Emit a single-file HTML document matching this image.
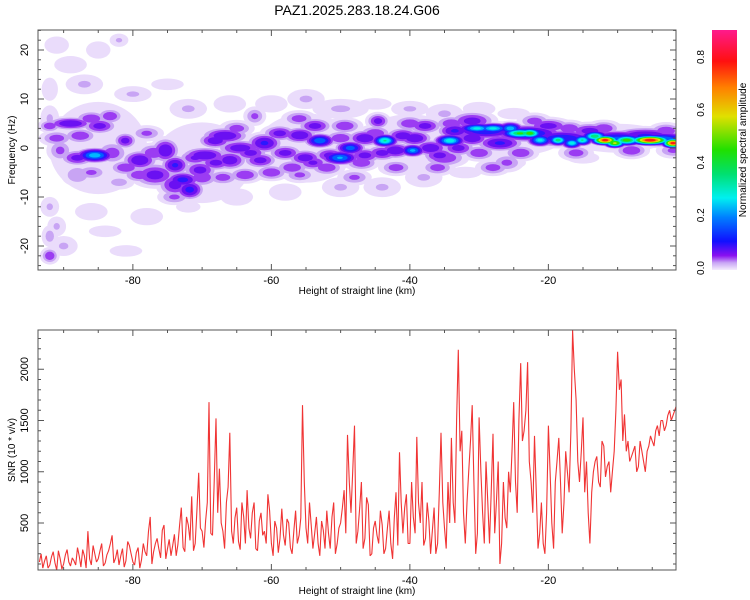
<!DOCTYPE html>
<html><head><meta charset="utf-8"><style>
body{margin:0;background:#fff;}
svg{display:block;font-family:"Liberation Sans",sans-serif;}
</style></head><body>
<svg id="c" width="750" height="600" viewBox="0 0 750 600" xmlns="http://www.w3.org/2000/svg">
<defs>
<clipPath id="clipTop"><rect x="38" y="30" width="638" height="240"/></clipPath>
<clipPath id="clipBot"><rect x="38" y="330" width="638" height="240"/></clipPath>
<linearGradient id="cbar" x1="0" y1="1" x2="0" y2="0">
<stop offset="0" stop-color="#f4ecfd"/><stop offset="0.03" stop-color="#c9a6f5"/>
<stop offset="0.06" stop-color="#8a10f0"/><stop offset="0.12" stop-color="#1010ff"/>
<stop offset="0.22" stop-color="#0080ff"/><stop offset="0.3" stop-color="#00f0f0"/>
<stop offset="0.4" stop-color="#00e070"/><stop offset="0.5" stop-color="#20e000"/>
<stop offset="0.64" stop-color="#e0e000"/><stop offset="0.76" stop-color="#ff8000"/>
<stop offset="0.87" stop-color="#ff1010"/><stop offset="1" stop-color="#ff1a8c"/>
</linearGradient>
</defs>
<text x="357" y="15" font-size="14" text-anchor="middle">PAZ1.2025.283.18.24.G06</text>
<g id="top"></g>
<g id="bot"></g>
<g>
<rect x="712" y="30" width="25" height="240" fill="url(#cbar)"/>
<text transform="translate(746,150) rotate(-90)" font-size="10" text-anchor="middle">Normalized spectral amplitude</text>
<g id="cbt"></g>
</g>
</svg>
<script>
// ---- SNR data (0.5 km steps starting at -93.5 km) ----
const snrStart = -93.5;
const snrStep = 0.5;
const snrValues = [
120,60,180,90,220,40,150,100,240,80,
130,260,70,180,420,90,200,150,300,110,
230,380,160,90,250,130,280,120,210,60,
300,180,560,220,350,160,480,250,180,390,
290,650,220,480,760,300,990,420,520,1680,
380,1520,1030,420,700,1380,300,650,240,560,
820,350,700,230,600,420,780,300,520,210,
640,280,500,200,620,380,1650,450,700,250,
560,180,430,620,250,700,300,500,820,1360,
600,1450,420,900,350,680,200,520,300,480,
250,620,150,800,1190,400,780,300,560,1340,
500,280,700,200,650,300,1380,450,900,1330,
500,2190,1400,300,1000,1650,200,1530,600,1100,
300,1370,700,100,900,450,800,1680,600,2060,
1400,2070,900,1350,250,700,200,1450,500,900,
1330,400,1200,800,2380,1700,900,1530,1100,300,
1000,1150,850,1250,1050,800,1200,2170,1900,1560,
1300,1150,1250,1050,1200,1000,1250,1300,1400,1350,
1500,1450,1600,1550,1650];
// midpoint samples (at snrStart + 0.25 + i*0.5)
const snrMid = [
200,130,60,170,110,230,50,190,120,160,
90,180,240,60,150,280,120,230,80,190,
300,110,240,180,70,320,200,90,260,140,
220,420,100,300,250,430,150,340,280,180,
480,260,560,330,230,620,450,260,700,400,
900,600,500,250,850,420,550,320,700,300,
450,600,250,520,380,300,620,180,450,350,
380,540,260,430,300,550,900,300,480,400,
300,520,250,400,560,200,450,650,400,900,
1000,300,650,250,750,180,450,380,620,200,
450,300,550,280,700,650,300,900,400,700,
900,350,520,430,200,800,700,250,500,700,
1500,1200,600,700,1300,900,400,1000,300,700,
800,400,1100,300,550,1000,1200,900,1500,1300,
1600,1100,600,800,400,300,600,1000,250,1100,
900,700,1000,1400,2000,1100,1200,800,600,800,
1100,900,1300,950,1100,1000,1600,1800,1300,1200,
1100,1200,1000,1300,1100,1200,1350,1250,1450,1500,
1400,1550,1500,1600];
// ---- spectrogram blobs ----
const blobKm  = [-85,-70,-55,-40,-25,-10,-91,-89,-85,-82,-87,-80,-75,-72,-66,-60,-55,-50,-45,-40,-35,-30,-25,-92,-91,-92,-90,-86,-84,-78,-72,-65,-58,-50,-44,-38,-32,-25,-15,-8,-92,-92,-92,-81,
-85.5,-89,-84.8,-87.6,-83.3,-90.5,-88,-81.1,-79,-79,-75.3,-73.9,-72.8,-71.8,-73.9,-76.8,-69.6,-68.1,-66.7,-66,-70.3,-64.5,-63.8,-62.4,-61,-61.6,-58.8,-55.9,-55.1,-55.9,-53,-53.7,-51.5,-50.1,-48.6,-49.4,-46.5,-46.5,-44.6,-43.6,-42.1,-39.6,-39.3,-37.8,-34.2,-33.5,-35.7,
-88,-83,-77,-70,-68,-63,-58,-57,-52,-47,-44,-41,-37,-33,-31,-92,-86,-82,
-31,-27,-20,-14,-6,-26,-35,-18,-10,-4,-29,-23,
-30.3,-28,-25.5,-24.1,-22.7,-21.2,-18.6,-16.6,-15.1,-13.3,-11.8,-10.4,-8.7,-5.3,-2,
-91,-86,-81,-78,-74,-71,-67,-65,-60,-59,-56,-54,-50,-48,-45,-42,-40,-36,-34,-30,-28,-24,-22,-17,-16,-12,-8,-3,-2];
const blobHz  = [0,-3,0,1,2,2,21,17,20,22,13,11,13,8,9,9,10,8,9,8,7,8,7,-12,-16,-22,-20,-13,-17,-14,-12,-10,-9,-8,-8,-6,-5,-3,-2,-1,-18,6,12,-21,
-1.5,5,4.5,2.5,6.5,-0.5,-5.5,1.5,-2.5,-5.5,-0.5,-3.5,-6.5,-8.5,-7.5,-5.5,-1.5,1.5,2.5,-2.5,-4.5,0,-5.5,6.5,1,-2.5,3,2.6,-2,-5.5,1.5,4.5,-1.5,-2,0,4.5,2,-1.5,5.5,1.5,-0.5,-0.5,2,4.5,1.5,3.5,-1.5,
-2,-1,-1,-6,-3,-1,-1,-4,-4,-3,-1,2.5,0,0,2,4.5,-5,-7,
5.5,1,4.5,3.5,2.5,-3,-2,2,2,1.8,3.5,3,
4,4,4,3,3,1.6,1.6,1,1.6,2.4,1.6,1,1.6,1.6,1,
2,6,-4,3,-10,-2,-6,4,-5,3,6,-3,2,-6,3,-4,5,-4,5,-1,-4,-1,5.5,4,-1,4,-0.5,3.5,-0.5];
const blobAmp = [0.04,0.04,0.04,0.04,0.04,0.04,0.04,0.04,0.04,0.05,0.05,0.05,0.04,0.05,0.04,0.04,0.05,0.05,0.04,0.05,0.05,0.04,0.04,0.05,0.05,0.1,0.05,0.04,0.04,0.04,0.04,0.04,0.04,0.05,0.05,0.05,0.04,0.04,0.04,0.04,0.06,0.05,0.04,0.04,
0.28,0.14,0.12,0.1,0.1,0.08,0.07,0.12,0.14,0.1,0.14,0.15,0.16,0.16,0.12,0.12,0.14,0.13,0.14,0.13,0.12,0.13,0.1,0.08,0.15,0.12,0.12,0.14,0.13,0.08,0.24,0.12,0.12,0.25,0.22,0.1,0.14,0.12,0.12,0.35,0.14,0.26,0.14,0.12,0.32,0.15,0.12,
0.12,0.09,0.1,0.1,0.12,0.12,0.12,0.1,0.1,0.1,0.12,0.13,0.14,0.12,0.14,0.1,0.08,0.06,
0.12,0.15,0.12,0.12,0.15,0.08,0.1,0.18,0.2,0.25,0.18,0.2,
0.3,0.3,0.28,0.42,0.45,0.3,0.38,0.32,0.35,0.4,0.82,0.55,0.45,0.86,0.82,
0.09,0.1,0.1,0.08,0.08,0.11,0.09,0.09,0.1,0.1,0.09,0.11,0.1,0.08,0.1,0.09,0.1,0.09,0.1,0.1,0.09,0.1,0.09,0.1,0.09,0.1,0.1,0.1,0.08];
const blobSx  = [6,6,6,6,6,6,1.5,2,1.5,1,2,2,2,2,2,2,2,3,2,2,2,2,2,1,1,0.8,1.5,2,2,2,1.5,2,2,2,2,2,2,1.5,2,2,0.8,1,1,2,
1.5,2,1.5,1.5,1.2,1.2,1.5,1,1.5,1.5,1.2,1.2,1.5,1.2,1.5,2,2,1.5,2,1.5,1.5,2,1.5,1,1.5,1.5,1.5,1.5,1.5,1.5,1.2,1.5,1.5,1.5,1.2,1.5,1.5,1.5,1,1,1.5,1,1.5,1.5,1.2,1.5,1.5,
1.5,1.5,1.5,1.5,1.5,1.5,1.5,1.5,1.5,1.5,1.5,1.5,1.5,1.5,1.5,1,1.5,1.5,
2,2,2,2,3,1.5,2,3,3,3,3,3,
1.5,1.5,1,1.5,1,1,0.8,0.8,0.8,1,1,0.8,1.2,1.5,0.8,
1.5,1.5,1.5,1.5,1.5,1.5,1.5,1.5,1.5,1.5,1.5,1.5,1.5,1.5,1.5,1.5,1.5,1.5,1.5,1.5,1.5,1.5,1.5,1.5,1.5,1.5,1.5,1.5,1.5];
const blobSy  = [8,7,6,5,3,2.5,1.5,1.5,1.5,1,1.5,1.2,1,1.5,1.5,1.5,1.5,1.5,1,1.2,1.5,1.2,1,1.5,1.5,1,1.5,1.5,1,1.5,1,1.5,1.5,1.5,1.5,1.5,1,1,1,1,1.5,2,2,1,
0.8,0.8,1,1,1,1.5,1.5,1,1.2,1,1.5,1.2,1,1.2,1.5,1.5,1,1,1,1.2,1.2,1,1,1.2,1.2,1,1,1,1,1,0.8,1,1,0.8,0.8,1,1,1,1,0.7,1,0.7,1,1,0.7,1,1,
1,1.5,1.2,1.2,1,1,1,1,1,1,1,1,1,1,1,0.8,1,1,
1.2,1,1,1,1,1.2,1.2,1,0.9,0.8,1,1,
0.6,0.6,0.7,0.6,0.6,0.7,0.6,0.6,0.6,0.6,0.5,0.5,0.6,0.5,0.5,
1,1,1,1,1,1,1,1,1,1,1,1,1,1,1,1,1,1,1,1,1,1,1,1,1,1,1,1,1];
const xTicks = [-80,-60,-40,-20];
const freqTicks = [-20,-10,0,10,20];
const snrTicks = [500,1000,1500,2000];
const cbTicks = [0.0,0.2,0.4,0.6,0.8];

const NS="http://www.w3.org/2000/svg";
function mk(tag,attrs,parent){const e=document.createElementNS(NS,tag);for(const k in attrs)e.setAttribute(k,attrs[k]);parent.appendChild(e);return e;}
const L=38,R=676;
const xKm=v=>L+(v-(-93.7))*6.925;
const yHz=v=>148-v*4.9;
const ySnr=v=>523-(v-500)*0.1025;
const yCb=v=>268-v*(211/0.8);
const topG=document.getElementById('top'), botG=document.getElementById('bot');

const levels=[[0.02,'#eadcfb'],[0.045,'#c8a4f4'],[0.07,'#9b3cf2'],[0.1,'#6a10f2'],[0.14,'#2a18ff'],[0.19,'#0060ff'],[0.24,'#00b8ff'],[0.28,'#00f0e8'],[0.34,'#00e880'],[0.4,'#30e000'],[0.52,'#d8e800'],[0.64,'#ff9000'],[0.74,'#ff1a10']];
const sg=mk('g',{'clip-path':'url(#clipTop)'},topG);


for(const [lv,col] of levels){
  for(let i=0;i<blobKm.length;i++){
    if(blobAmp[i]<=lv) continue;
    const f=Math.sqrt(2*Math.log(blobAmp[i]/lv));
    const e=mk('ellipse',{cx:xKm(blobKm[i]),cy:yHz(blobHz[i]),rx:blobSx[i]*6.925*f,ry:blobSy[i]*4.9*f,fill:col},sg);
    
    
  }
}
const merged=[];
for(let i=0;i<snrValues.length;i++){
  merged.push([snrStart+i*snrStep,snrValues[i]]);
  if(i<snrMid.length) merged.push([snrStart+i*snrStep+snrStep/2,snrMid[i]]);
}
let pts=merged.map(p=>xKm(p[0]).toFixed(1)+','+ySnr(p[1]).toFixed(1)).join(' ');
const pl=mk('polyline',{points:pts,fill:'none',stroke:'#f03434','stroke-width':1.1,'stroke-linejoin':'bevel','clip-path':'url(#clipBot)'},botG);



function frame(g,y0,y1,name){
  const r=mk('rect',{x:L,y:y0,width:R-L,height:y1-y0,fill:'none',stroke:'#555','stroke-width':1},g);
  
  
  for(let v=-90;v<=-5;v+=5){
    const x=xKm(v), len=(v%20===0)?6:3;
    mk('line',{x1:x,x2:x,y1:y1,y2:y1-len,stroke:'#555'},g);
    mk('line',{x1:x,x2:x,y1:y0,y2:y0+len,stroke:'#555'},g);
  }
  for(const v of xTicks){
    const t=mk('text',{x:xKm(v),y:y1+14,'font-size':11,'text-anchor':'middle'},g);t.textContent=v;
    
    
  }
  const xt=mk('text',{x:357,y:y1+24,'font-size':10,'text-anchor':'middle'},g);xt.textContent='Height of straight line (km)';
  
  
}
frame(topG,30,270,'spectrogram-frame');
frame(botG,330,570,'snr-frame');
for(let v=-24;v<=24;v+=2){const y=yHz(v),len=(v%10===0)?6:3;
  mk('line',{x1:L,x2:L+len,y1:y,y2:y,stroke:'#555'},topG);mk('line',{x1:R,x2:R-len,y1:y,y2:y,stroke:'#555'},topG);}
for(const v of freqTicks){const t=mk('text',{transform:`translate(${L-10},${yHz(v)}) rotate(-90)`,'font-size':11,'text-anchor':'middle'},topG);t.textContent=v;
  
  }
let yt=mk('text',{transform:'translate(15,150) rotate(-90)','font-size':10,'text-anchor':'middle'},topG);yt.textContent='Frequency (Hz)';


for(let v=100;v<=2300;v+=100){const y=ySnr(v),len=(v%500===0)?6:3;
  mk('line',{x1:L,x2:L+len,y1:y,y2:y,stroke:'#555'},botG);mk('line',{x1:R,x2:R-len,y1:y,y2:y,stroke:'#555'},botG);}
for(const v of snrTicks){const t=mk('text',{transform:`translate(${L-10},${ySnr(v)}) rotate(-90)`,'font-size':11,'text-anchor':'middle'},botG);t.textContent=v;
  
  }
yt=mk('text',{transform:'translate(15,450) rotate(-90)','font-size':10,'text-anchor':'middle'},botG);yt.textContent='SNR (10 * v/v)';


const cbt=document.getElementById('cbt');
for(const v of cbTicks){const t=mk('text',{transform:`translate(704,${yCb(v)}) rotate(-90)`,'font-size':10,'text-anchor':'middle'},cbt);t.textContent=v.toFixed(1);
  
  }
</script>
</body></html>
